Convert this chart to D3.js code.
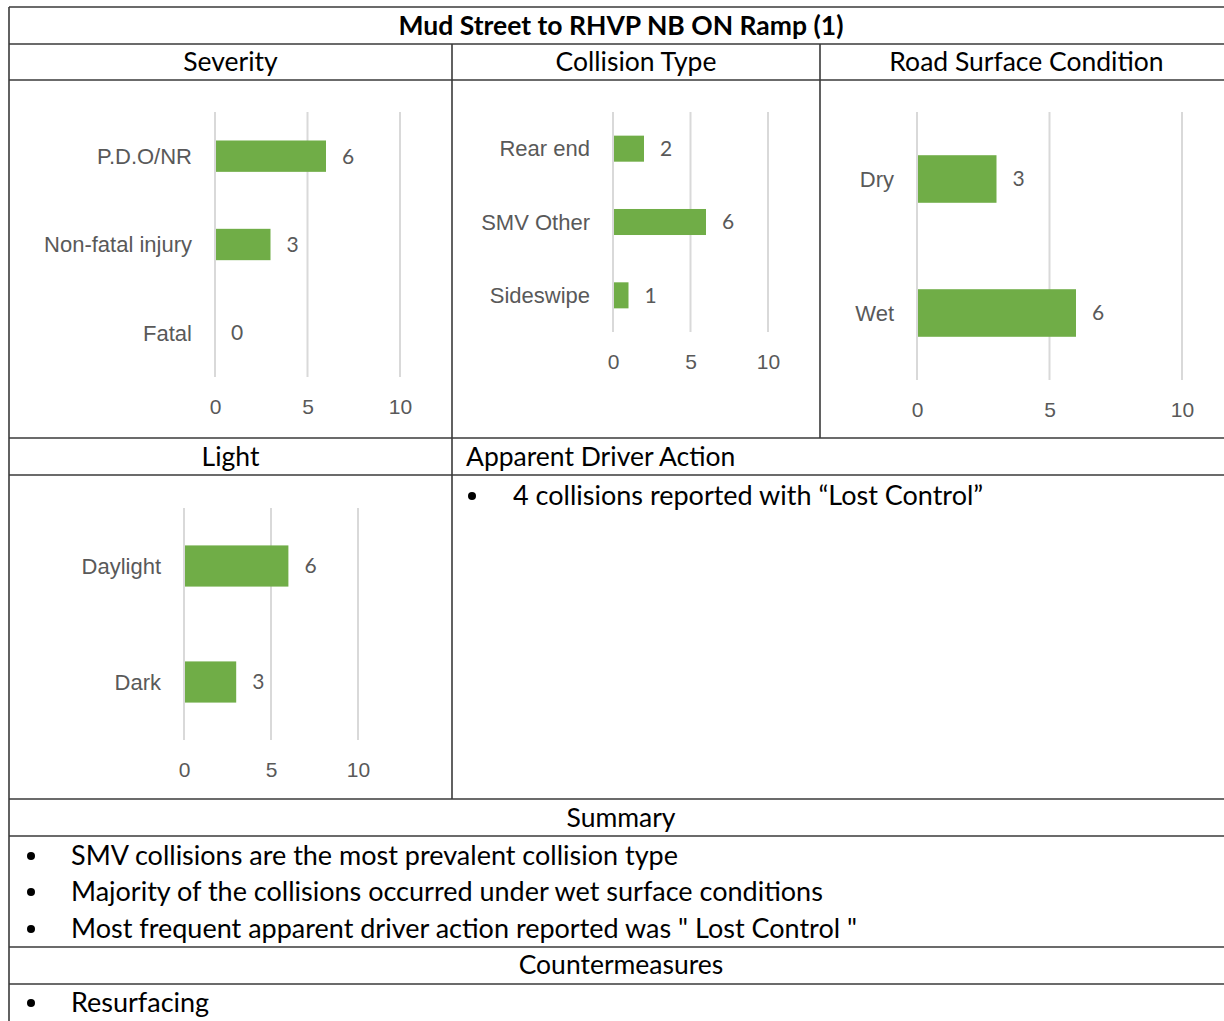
<!DOCTYPE html>
<html>
<head>
<meta charset="utf-8">
<script src="https://cdn.jsdelivr.net/npm/d3@7"></script>
<style>
  html, body { margin: 0; padding: 0; background: #fff; }
  svg { display: block; font-family: Lato, "Open Sans", sans-serif; }
</style>
</head>
<body>
<svg id="sheet" width="1224" height="1021"></svg>
<script>
// ---- data ----
const reportTitle = "Mud Street to RHVP NB ON Ramp (1)";

const severityCats = ["P.D.O/NR", "Non-fatal injury", "Fatal"];
const severityVals = [6, 3, 0];

const collisionCats = ["Rear end", "SMV Other", "Sideswipe"];
const collisionVals = [2, 6, 1];

const surfaceCats = ["Dry", "Wet"];
const surfaceVals = [3, 6];

const lightCats = ["Daylight", "Dark"];
const lightVals = [6, 3];

const axisTicks = [0, 5, 10];

const driverActionNotes = ["4 collisions reported with \u201cLost Control\u201d"];
const summaryNotes = [
  "SMV collisions are the most prevalent collision type",
  "Majority of the collisions occurred under wet surface conditions",
  "Most frequent apparent driver action reported was \" Lost Control \""
];
const countermeasureNotes = ["Resurfacing"];

// ---- styling ----
const BAR = "#70ad47";
const GRID = "#d9d9d9";
const LABEL = "#595959";
const RULE = "#3a3a3a";
const HEAD_SIZE = 26.5;
const BODY_SIZE = 27;
const CAT_SIZE = 22;
const NUM_SIZE = 21;

const svg = d3.select("#sheet");
svg.append("rect").attr("width", 1224).attr("height", 1021).attr("fill", "#fff");

// ---- table frame ----
const L = 9, R = 1233, C1 = 452, C2 = 820;
const rows = [7, 44, 80, 438, 475, 799, 836, 947, 984];
const frame = svg.append("g").attr("stroke", RULE).attr("stroke-width", 1.6);
rows.forEach(y => frame.append("line").attr("x1", L).attr("x2", R).attr("y1", y).attr("y2", y));
frame.append("line").attr("x1", L).attr("x2", L).attr("y1", 7).attr("y2", 1021);
frame.append("line").attr("x1", C1).attr("x2", C1).attr("y1", 44).attr("y2", 799);
frame.append("line").attr("x1", C2).attr("x2", C2).attr("y1", 44).attr("y2", 438);

// ---- headings ----
function heading(text, x, y, anchor, bold) {
  svg.append("text")
    .attr("x", x).attr("y", y).attr("dy", "0.35em")
    .attr("text-anchor", anchor)
    .attr("font-size", HEAD_SIZE)
    .attr("font-weight", bold ? 700 : 400)
    .attr("fill", "#000")
    .text(text);
}
heading(reportTitle, (L + R) / 2, 26, "middle", true);
heading("Severity", (L + C1) / 2, 62, "middle");
heading("Collision Type", (C1 + C2) / 2, 62, "middle");
heading("Road Surface Condition", (C2 + R) / 2, 62, "middle");
heading("Light", (L + C1) / 2, 457, "middle");
heading("Apparent Driver Action", 466, 457, "start");
heading("Summary", (L + R) / 2, 818, "middle");
heading("Countermeasures", (L + R) / 2, 965, "middle");

// ---- bullet lists ----
function bullets(list, bx, tx, ys) {
  list.forEach((t, i) => {
    svg.append("circle").attr("cx", bx).attr("cy", ys[i]).attr("r", 4).attr("fill", "#000");
    svg.append("text").attr("x", tx).attr("y", ys[i]).attr("dy", "0.35em")
      .attr("font-size", BODY_SIZE).attr("fill", "#000").text(t);
  });
}
bullets(driverActionNotes, 472, 513, [496]);
bullets(summaryNotes, 31, 71, [856, 892, 929]);
bullets(countermeasureNotes, 31, 71, [1003]);

// ---- horizontal bar charts ----
function barChart(cats, vals, box) {
  const g = svg.append("g");
  const x = d3.scaleLinear().domain([0, 10]).range([box.x0, box.x1]);
  const y = d3.scaleBand().domain(cats).range([box.y0, box.y1])
    .paddingInner(0.645).paddingOuter(0.3225);

  // vertical gridlines
  g.append("g").selectAll("line").data(axisTicks).join("line")
    .attr("x1", d => x(d)).attr("x2", d => x(d))
    .attr("y1", box.y0).attr("y2", box.y1)
    .attr("stroke", GRID).attr("stroke-width", 2);

  // value axis labels
  const xa = g.append("g").attr("transform", `translate(0,${box.y1})`)
    .call(d3.axisBottom(x).tickValues(axisTicks).tickSize(0).tickFormat(d3.format("d")));
  xa.select(".domain").remove();
  xa.selectAll("text").attr("y", 30).attr("dy", "0.35em")
    .attr("font-family", null).attr("font-size", NUM_SIZE).attr("fill", LABEL);

  // category labels
  const ya = g.append("g").attr("transform", `translate(${box.x0},0)`)
    .call(d3.axisLeft(y).tickSize(0).tickPadding(23));
  ya.select(".domain").remove();
  ya.selectAll("text").attr("dy", "0.35em")
    .attr("font-family", null).attr("font-size", CAT_SIZE).attr("fill", LABEL);

  const rowsData = cats.map((c, i) => ({ c, v: vals[i] }));
  g.append("g").selectAll("rect").data(rowsData).join("rect")
    .attr("x", x(0) + 1).attr("y", d => y(d.c))
    .attr("width", d => Math.max(0, x(d.v) - x(0) - 1))
    .attr("height", y.bandwidth())
    .attr("fill", BAR);

  g.append("g").selectAll("text").data(rowsData).join("text")
    .attr("x", d => x(d.v) + 16)
    .attr("y", d => y(d.c) + y.bandwidth() / 2)
    .attr("dy", "0.35em")
    .attr("font-size", NUM_SIZE).attr("fill", LABEL)
    .text(d => d.v);
}

barChart(severityCats, severityVals, { x0: 215, x1: 400, y0: 112, y1: 377 });
barChart(collisionCats, collisionVals, { x0: 613, x1: 768, y0: 112, y1: 332 });
barChart(surfaceCats, surfaceVals, { x0: 917, x1: 1182, y0: 112, y1: 380 });
barChart(lightCats, lightVals, { x0: 184, x1: 358, y0: 508, y1: 740 });
</script>
</body>
</html>
